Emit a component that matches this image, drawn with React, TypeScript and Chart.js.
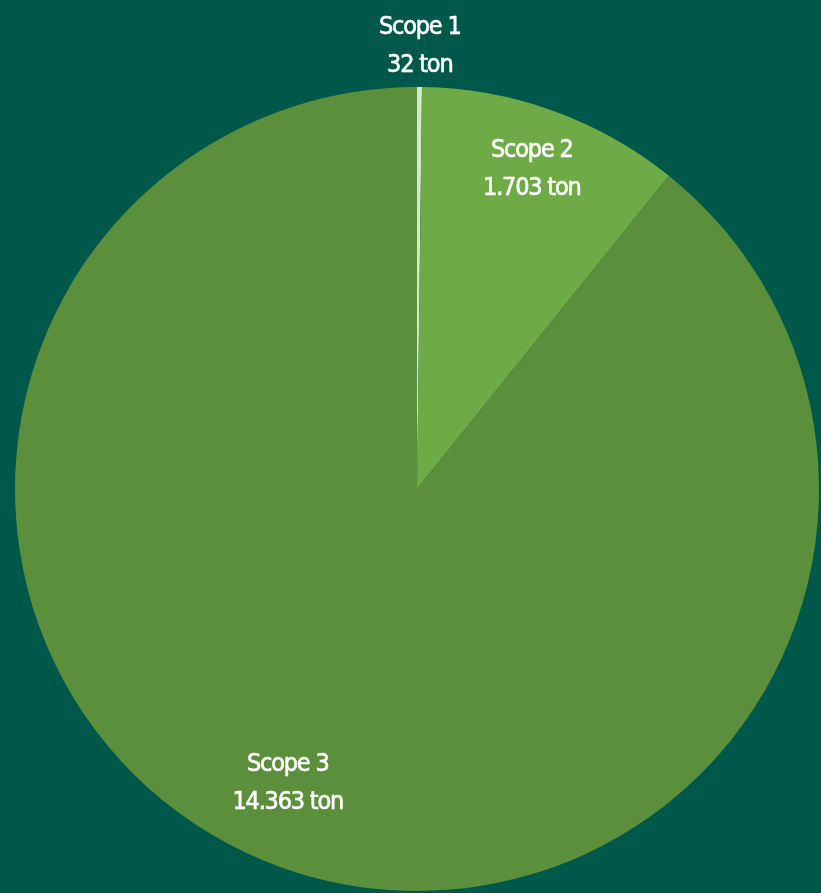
import React, { useEffect, useRef } from "react";
import { Chart, registerables } from "chart.js";

Chart.register(...registerables);

const categories = ["Scope 1", "Scope 2", "Scope 3"];
const values = [32, 1703, 14363];
const valueLabels = ["32 ton", "1.703 ton", "14.363 ton"];
const colors = ["#d9e6cf", "#6eab47", "#5c8f3b"];

const BG = "#00584b";
const FONT = "'DejaVu Sans Condensed', 'Liberation Sans Narrow', sans-serif";

// label placement: fraction of radius, angle offset (radians)
const labelRadius = [1.1, 0.845, 0.8];
const labelAngleShift = [0, 0, 0.075];

const labelPlugin = {
  id: "sliceLabels",
  afterDatasetsDraw(chart: any) {
    const ctx = chart.ctx;
    const meta = chart.getDatasetMeta(0);
    ctx.save();
    ctx.fillStyle = "#ffffff";
    ctx.strokeStyle = "#ffffff";
    ctx.lineWidth = 0.6;
    ctx.textAlign = "center";
    ctx.textBaseline = "middle";
    ctx.font = `25px ${FONT}`;
    try {
      (ctx as any).letterSpacing = "-1.2px";
    } catch (e) {}
    meta.data.forEach((arc: any, i: number) => {
      const { x, y, startAngle, endAngle, outerRadius } = arc.getProps(
        ["x", "y", "startAngle", "endAngle", "outerRadius"],
        true
      );
      const mid = (startAngle + endAngle) / 2 + labelAngleShift[i];
      const r = outerRadius * labelRadius[i];
      const cx = x + Math.cos(mid) * r;
      const cy = y + Math.sin(mid) * r;
      ctx.fillText(categories[i], cx, cy - 19);
      ctx.strokeText(categories[i], cx, cy - 19);
      ctx.fillText(valueLabels[i], cx, cy + 19);
      ctx.strokeText(valueLabels[i], cx, cy + 19);
    });
    ctx.restore();
  },
};

export default function App() {
  const ref = useRef<HTMLCanvasElement>(null);
  useEffect(() => {
    document.body.style.margin = "0";
    document.body.style.background = BG;
    const chart = new Chart(ref.current!, {
      type: "pie",
      data: {
        labels: categories,
        datasets: [
          {
            data: values,
            backgroundColor: colors,
            borderWidth: 0,
          },
        ],
      },
      options: {
        animation: false,
        responsive: false,
        maintainAspectRatio: false,
        layout: { padding: { left: 15, right: 2, top: 87, bottom: 2 } },
        plugins: {
          legend: { display: false },
          tooltip: { enabled: false },
        },
      },
      plugins: [labelPlugin],
    });
    return () => chart.destroy();
  }, []);
  return (
    <div style={{ position: "fixed", left: 0, top: 0, width: 821, height: 893, background: BG }}>
      <canvas ref={ref} width={821} height={893} style={{ width: 821, height: 893, display: "block" }} />
    </div>
  );
}
